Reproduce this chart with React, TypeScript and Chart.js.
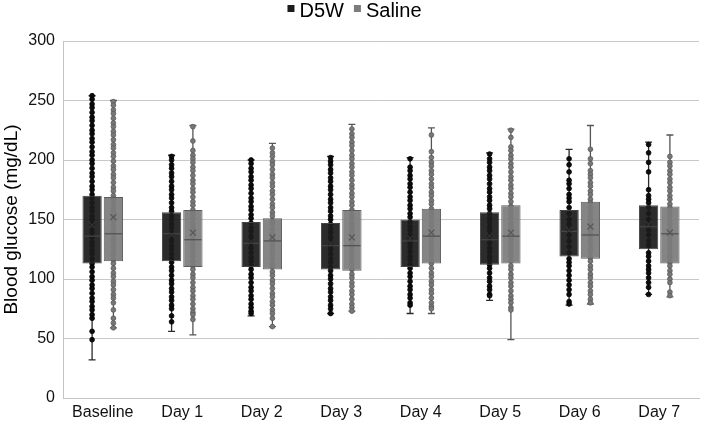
import React, { useEffect, useRef } from "react";
import { Chart, registerables } from "chart.js";

Chart.register(...registerables);

const categories = ["Baseline", "Day 1", "Day 2", "Day 3", "Day 4", "Day 5", "Day 6", "Day 7"];
const seriesNames = ["D5W", "Saline"];

// D5W box statistics
const d5wMin = [32, 56, 69, 71, 71, 82, 78, 87];
const d5wQ1 = [113, 115, 110, 108, 110, 112, 119, 125];
const d5wMedian = [136, 138, 130, 128, 132, 133, 140, 144];
const d5wQ3 = [170, 156, 148, 147, 150, 156, 158, 162];
const d5wMax = [254, 204, 200, 203, 202, 206, 209, 215];
const d5wMean = [145, 137, 131, 130, 134, 136, 141, 146];

// Saline box statistics
const salineMin = [59, 53, 60, 73, 71, 49, 79, 85];
const salineQ1 = [115, 110, 108, 107, 113, 113, 117, 113];
const salineMedian = [138, 133, 132, 128, 136, 136, 137, 138];
const salineQ3 = [169, 158, 151, 158, 159, 162, 165, 161];
const salineMax = [250, 229, 214, 230, 227, 226, 229, 221];
const salineMean = [152, 139, 135, 135, 139, 139, 144, 139];

// D5W individual readings (visible points)
const d5wBaseline = [254, 251, 247, 244, 240, 236, 233, 229, 225, 222, 218, 215, 211, 207, 204, 200, 197, 193, 189, 186, 182, 178, 175, 171, 168, 164, 160, 157, 153, 150, 146, 142, 139, 135, 131, 128, 124, 121, 117, 113, 110, 106, 102, 99, 95, 92, 88, 84, 81, 77, 74, 70, 67, 56, 49];
const d5wDay1 = [203, 200, 196, 193, 189, 186, 182, 178, 175, 171, 168, 164, 160, 157, 153, 150, 146, 143, 139, 135, 132, 128, 125, 121, 117, 114, 110, 107, 103, 99, 96, 92, 89, 85, 82, 78, 75, 69, 64];
const d5wDay2 = [200, 197, 193, 190, 186, 183, 179, 176, 172, 168, 165, 161, 158, 154, 151, 147, 143, 140, 136, 133, 129, 126, 122, 118, 115, 111, 108, 104, 101, 97, 93, 90, 86, 83, 79, 76, 73, 71];
const d5wDay3 = [202, 199, 196, 192, 189, 185, 182, 178, 175, 171, 167, 164, 160, 157, 153, 150, 146, 142, 139, 135, 132, 128, 125, 121, 117, 114, 110, 107, 103, 100, 96, 92, 89, 85, 82, 78, 75, 71];
const d5wDay4 = [201, 194, 191, 187, 184, 180, 177, 173, 169, 166, 162, 159, 155, 152, 148, 144, 141, 137, 134, 130, 127, 123, 119, 116, 112, 109, 105, 102, 98, 94, 91, 87, 84, 80, 78];
const d5wDay5 = [205, 201, 198, 194, 191, 187, 184, 180, 176, 173, 169, 166, 162, 159, 155, 151, 148, 144, 141, 137, 134, 130, 126, 123, 119, 116, 112, 109, 105, 101, 98, 94, 91, 87, 86];
const d5wDay6 = [201, 196, 190, 183, 180, 176, 171, 168, 165, 160, 155, 150, 146, 141, 137, 132, 127, 122, 117, 114, 111, 107, 103, 99, 95, 91, 87, 81, 79];
const d5wDay7 = [213, 206, 198, 190, 175, 170, 167, 164, 160, 155, 150, 146, 141, 137, 132, 128, 122, 119, 115, 111, 108, 105, 101, 97, 93, 87];

// Saline individual readings (visible points)
const salineBaseline = [249, 246, 242, 239, 235, 231, 228, 224, 221, 217, 213, 210, 206, 203, 199, 195, 192, 188, 185, 181, 177, 174, 170, 167, 163, 159, 156, 152, 149, 145, 141, 138, 134, 131, 127, 123, 120, 116, 113, 109, 105, 102, 98, 95, 91, 87, 84, 80, 74, 67, 63, 59];
const salineDay1 = [228, 216, 208, 204, 201, 198, 194, 191, 187, 183, 180, 176, 173, 169, 165, 162, 158, 155, 151, 147, 144, 140, 137, 133, 129, 126, 122, 119, 115, 111, 108, 104, 101, 97, 93, 90, 86, 83, 79, 75, 72, 70, 66];
const salineDay2 = [210, 206, 203, 199, 196, 192, 188, 185, 181, 178, 174, 171, 167, 163, 160, 156, 153, 149, 146, 142, 138, 135, 131, 128, 124, 121, 117, 113, 110, 106, 103, 99, 96, 92, 88, 85, 81, 78, 74, 71, 67, 60];
const salineDay3 = [226, 222, 219, 215, 212, 208, 204, 201, 197, 194, 190, 187, 183, 179, 176, 172, 169, 165, 162, 158, 154, 151, 147, 144, 140, 137, 133, 129, 126, 122, 119, 115, 112, 108, 104, 101, 97, 94, 90, 87, 83, 79, 76, 73];
const salineDay4 = [221, 207, 202, 198, 195, 191, 188, 184, 180, 177, 173, 170, 166, 163, 159, 155, 152, 148, 145, 141, 138, 134, 130, 127, 123, 120, 116, 113, 109, 105, 102, 98, 95, 91, 88, 84, 80, 77, 75];
const salineDay5 = [225, 219, 211, 208, 204, 201, 197, 194, 190, 186, 183, 179, 176, 172, 169, 165, 161, 158, 154, 151, 147, 144, 140, 136, 133, 129, 126, 122, 119, 115, 111, 108, 104, 101, 97, 94, 90, 86, 83, 80, 76, 74];
const salineDay6 = [209, 201, 197, 191, 188, 185, 181, 178, 174, 171, 167, 164, 160, 157, 153, 150, 146, 143, 139, 136, 132, 129, 125, 122, 118, 115, 111, 108, 104, 101, 97, 94, 90, 87, 83, 80];
const salineDay7 = [203, 198, 195, 191, 188, 184, 181, 177, 174, 170, 167, 163, 160, 156, 153, 149, 146, 142, 139, 135, 132, 128, 125, 121, 118, 114, 111, 107, 104, 100, 97, 89, 86];

const d5wPoints = [d5wBaseline, d5wDay1, d5wDay2, d5wDay3, d5wDay4, d5wDay5, d5wDay6, d5wDay7];
const salinePoints = [salineBaseline, salineDay1, salineDay2, salineDay3, salineDay4, salineDay5, salineDay6, salineDay7];

const FONT = "'Liberation Sans', Arial, sans-serif";
const boxColors = ["rgba(28,28,28,0.93)", "rgba(124,124,124,0.93)"];
const legendColors = ["#1c1c1c", "#7c7c7c"];

const seriesStyles = [
  {
    min: d5wMin, max: d5wMax, median: d5wMedian, mean: d5wMean, points: d5wPoints,
    whisker: "#2a2a2a", dotFill: "#0c0c0c", dotStroke: "#000000", medianColor: "#474747", meanColor: "#333333",
  },
  {
    min: salineMin, max: salineMax, median: salineMedian, mean: salineMean, points: salinePoints,
    whisker: "#555555", dotFill: "#777777", dotStroke: "#5a5a5a", medianColor: "#505050", meanColor: "#555555",
  },
];

const boxPlugin = {
  id: "boxExtras",
  beforeDatasetsDraw(chart: any) {
    const ctx = chart.ctx;
    const y = chart.scales.y;
    seriesStyles.forEach((s, d) => {
      const meta = chart.getDatasetMeta(d);
      meta.data.forEach((bar: any, i: number) => {
        const x = bar.x;
        const yMin = y.getPixelForValue(s.min[i]);
        const yMax = y.getPixelForValue(s.max[i]);
        ctx.save();
        ctx.strokeStyle = s.whisker;
        ctx.lineWidth = 1.3;
        ctx.beginPath();
        ctx.moveTo(x, yMin);
        ctx.lineTo(x, yMax);
        ctx.moveTo(x - 3.5, yMin);
        ctx.lineTo(x + 3.5, yMin);
        ctx.moveTo(x - 3.5, yMax);
        ctx.lineTo(x + 3.5, yMax);
        ctx.stroke();
        ctx.fillStyle = s.dotFill;
        ctx.strokeStyle = s.dotStroke;
        ctx.lineWidth = 0.8;
        s.points[i].forEach((v: number) => {
          ctx.beginPath();
          ctx.arc(x, y.getPixelForValue(v), 2.4, 0, Math.PI * 2);
          ctx.fill();
          ctx.stroke();
        });
        ctx.restore();
      });
    });
  },
  afterDatasetsDraw(chart: any) {
    const ctx = chart.ctx;
    const y = chart.scales.y;
    seriesStyles.forEach((s, d) => {
      const meta = chart.getDatasetMeta(d);
      meta.data.forEach((bar: any, i: number) => {
        const x = bar.x;
        const w = bar.width;
        const ym = y.getPixelForValue(s.median[i]);
        ctx.save();
        ctx.strokeStyle = s.medianColor;
        ctx.lineWidth = 1.2;
        ctx.beginPath();
        ctx.moveTo(x - w / 2 + 1, ym);
        ctx.lineTo(x + w / 2 - 1, ym);
        ctx.stroke();
        const yMean = y.getPixelForValue(s.mean[i]);
        ctx.strokeStyle = s.meanColor;
        ctx.lineWidth = 1.2;
        ctx.beginPath();
        ctx.moveTo(x - 3, yMean - 3);
        ctx.lineTo(x + 3, yMean + 3);
        ctx.moveTo(x + 3, yMean - 3);
        ctx.lineTo(x - 3, yMean + 3);
        ctx.stroke();
        ctx.restore();
      });
    });
  },
  afterDraw(chart: any) {
    // legend: small squares followed by series names, centred at the top
    const ctx = chart.ctx;
    ctx.save();
    ctx.font = `20px ${FONT}`;
    ctx.textBaseline = "alphabetic";
    const sq = 7;
    const gap = 5;
    const spacing = 10;
    const widths = seriesNames.map((n) => ctx.measureText(n).width);
    const total = widths.reduce((a, w) => a + sq + gap + w, 0) + spacing * (seriesNames.length - 1);
    let x = chart.width / 2 - total / 2;
    seriesNames.forEach((n, i) => {
      ctx.fillStyle = legendColors[i];
      ctx.fillRect(x, 5, sq, sq);
      x += sq + gap;
      ctx.fillStyle = "#000";
      ctx.fillText(n, x, 17);
      x += widths[i] + spacing;
    });
    ctx.restore();
  },
};

export default function App() {
  const ref = useRef<HTMLCanvasElement | null>(null);

  useEffect(() => {
    if (!ref.current) return;
    Chart.defaults.font.family = FONT;
    const chart = new Chart(ref.current, {
      type: "bar",
      data: {
        labels: categories,
        datasets: [
          {
            label: seriesNames[0],
            data: d5wQ1.map((q, i) => [q, d5wQ3[i]]) as any,
            backgroundColor: boxColors[0],
            borderColor: "#454545",
            borderWidth: 1,
            borderSkipped: false,
            categoryPercentage: 0.536,
            barPercentage: 0.906,
          },
          {
            label: seriesNames[1],
            data: salineQ1.map((q, i) => [q, salineQ3[i]]) as any,
            backgroundColor: boxColors[1],
            borderColor: "#5c5c5c",
            borderWidth: 1,
            borderSkipped: false,
            categoryPercentage: 0.536,
            barPercentage: 0.906,
          },
        ],
      },
      options: {
        responsive: true,
        maintainAspectRatio: false,
        animation: false,
        layout: { padding: { top: 41, right: 10, bottom: 0, left: 0 } },
        plugins: {
          tooltip: { enabled: false },
          legend: { display: false },
        },
        scales: {
          x: {
            grid: { display: false, drawTicks: false },
            border: { display: true, color: "#c4c4c4", width: 1 },
            ticks: { color: "#111", font: { size: 16 }, padding: 5 },
            afterFit: (scale: any) => {
              scale.height = 27;
            },
          },
          y: {
            min: 0,
            max: 300,
            ticks: { stepSize: 50, color: "#111", font: { size: 16 }, padding: 8 },
            grid: { color: "#c8c8c8", lineWidth: 1, drawTicks: false },
            border: { display: true, color: "#c4c4c4", width: 1 },
            title: {
              display: true,
              text: "Blood glucose (mg/dL)",
              color: "#000",
              font: { size: 19 },
              padding: { top: 0, bottom: 0 },
            },
            afterFit: (scale: any) => {
              scale.width = 63;
            },
          },
        },
      },
      plugins: [boxPlugin],
    });
    return () => chart.destroy();
  }, []);

  return (
    <div style={{ position: "fixed", left: 0, top: 0, width: 709, height: 425 }}>
      <canvas ref={ref} />
    </div>
  );
}
